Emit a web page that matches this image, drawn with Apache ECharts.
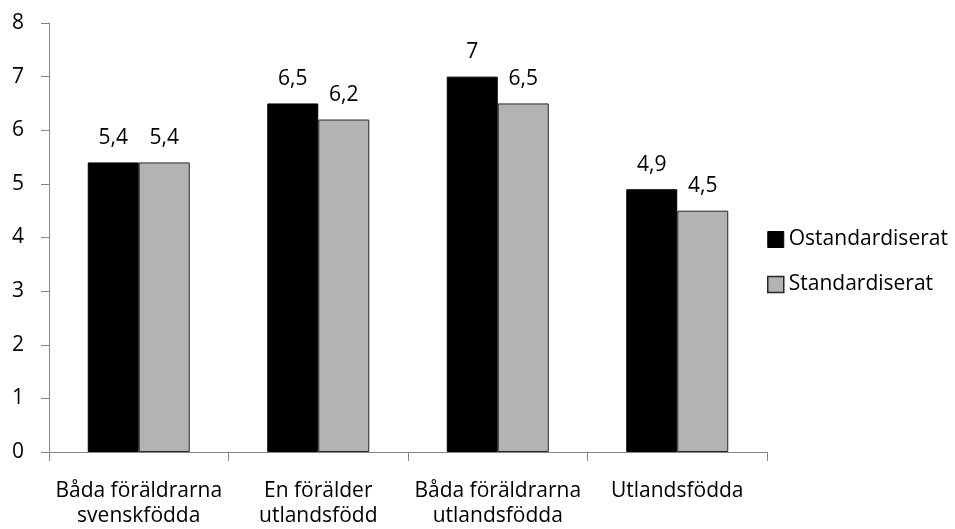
<!DOCTYPE html>
<html>
<head>
<meta charset="UTF-8">
<title>Ostandardiserat / Standardiserat</title>
<script src="https://cdn.jsdelivr.net/npm/echarts@6/dist/echarts.min.js"></script>
<style>
    html, body { margin: 0; padding: 0; background: #fff; }
    #main { width: 955px; height: 529px; }
</style>
</head>
<body>
<div id="main"></div>
<script type="text/javascript">
    var categories = ['Båda föräldrarna\nsvenskfödda', 'En förälder\nutlandsfödd', 'Båda föräldrarna\nutlandsfödda', 'Utlandsfödda'];
    var ostandardiserat = [5.4, 6.5, 7, 4.9];
    var standardiserat = [5.4, 6.2, 6.5, 4.5];
    var yTicks = [0, 1, 2, 3, 4, 5, 6, 7, 8];

    var font = '"Open Sans", "Liberation Sans", sans-serif';

    // svensk decimal med komma
    function fmt(p) {
        return String(p.value).replace('.', ',');
    }

    var myChart = echarts.init(document.getElementById('main'));

    var option = {
        animation: false,
        textStyle: { fontFamily: font },
        grid: {
            left: 49,
            right: 188,
            top: 23,
            bottom: 74
        },
        legend: {
            orient: 'vertical',
            left: 767,
            top: 229,
            padding: 0,
            itemWidth: 16,
            itemHeight: 16,
            itemGap: 24,
            icon: 'rect',
            textStyle: { fontFamily: font, fontSize: 21, color: '#000' },
            data: [
                { name: 'Ostandardiserat', itemStyle: { borderColor: '#000', borderWidth: 1 } },
                { name: 'Standardiserat', itemStyle: { borderColor: '#262626', borderWidth: 1.5 } }
            ]
        },
        xAxis: {
            type: 'category',
            data: categories,
            axisLine: { lineStyle: { color: '#868686', width: 1 } },
            axisTick: { show: true, length: 9, lineStyle: { color: '#868686' } },
            axisLabel: {
                interval: 0,
                color: '#000',
                fontFamily: font,
                fontSize: 21,
                lineHeight: 25,
                margin: 27
            }
        },
        yAxis: {
            type: 'value',
            min: yTicks[0],
            max: yTicks[yTicks.length - 1],
            interval: 1,
            axisLine: { show: true, lineStyle: { color: '#868686', width: 1 } },
            axisTick: { show: true, length: 8, lineStyle: { color: '#868686' } },
            splitLine: { show: false },
            axisLabel: {
                color: '#000',
                fontFamily: font,
                fontSize: 21,
                margin: 25
            }
        },
        series: [
            {
                name: 'Ostandardiserat',
                type: 'bar',
                data: ostandardiserat,
                barWidth: 51,
                barGap: '0%',
                itemStyle: { color: '#000', borderColor: '#000', borderWidth: 1 },
                label: {
                    show: true,
                    position: 'top',
                    distance: 14,
                    color: '#000',
                    fontFamily: font,
                    fontSize: 21,
                    formatter: fmt
                }
            },
            {
                name: 'Standardiserat',
                type: 'bar',
                data: standardiserat,
                barWidth: 51,
                barGap: '0%',
                itemStyle: { color: '#b3b3b3', borderColor: '#262626', borderWidth: 1 },
                label: {
                    show: true,
                    position: 'top',
                    distance: 14,
                    color: '#000',
                    fontFamily: font,
                    fontSize: 21,
                    formatter: fmt
                }
            }
        ]
    };

    myChart.setOption(option);
</script>
</body>
</html>
